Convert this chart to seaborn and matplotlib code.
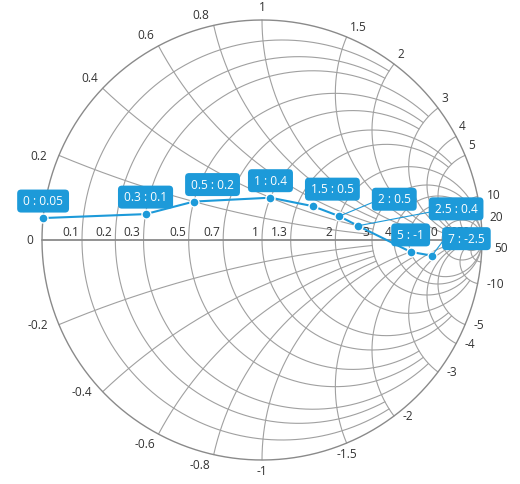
"""Smith chart (impedance) with a transmission series and data labels."""

import matplotlib
matplotlib.use("Agg")
import matplotlib.pyplot as plt
import numpy as np
import pandas as pd
import seaborn as sns
from matplotlib.patches import FancyBboxPatch
from matplotlib.transforms import IdentityTransform

# horizontal (resistance) axis labels and the |x| each circle is drawn up to
RESISTANCE_LABELS = [0.1, 0.2, 0.3, 0.5, 0.7, 1, 1.3, 2, 3, 4, 5, 10, 20, 50]
RESISTANCE_GRID_LIMIT = [2, 2, 3, 3, 3, 5, 5, 10, 10, np.inf, np.inf, np.inf, np.inf, np.inf]

# radial (reactance) axis labels and the r each arc is drawn up to
REACTANCE_LABELS = [0.2, 0.4, 0.6, 0.8, 1, 1.5, 2, 3, 4, 5, 10, 20, 50]
REACTANCE_GRID_LIMIT = [3, 3, 3, 3, 5, 5, 10, 10, np.inf, np.inf, np.inf, np.inf, np.inf]

# series: resistance / reactance pairs
SERIES_R = [0, 0.3, 0.5, 1, 1.5, 2, 2.5, 5, 7]
SERIES_X = [0.05, 0.1, 0.2, 0.4, 0.5, 0.5, 0.4, -1, -2.5]

SERIES_COLOR = "#1d9ad9"
GRID_COLOR = "#a0a0a0"
BORDER_COLOR = "#8a8a8a"
TEXT_COLOR = "#333333"
FONT = ["Open Sans", "DejaVu Sans"]
FS = 8.6       # axis labels
FS_TIP = 8.6   # data labels

R_PX = 220.0  # radius of the chart in pixels


def gamma(r, x):
    z = np.asarray(r, dtype=float) + 1j * np.asarray(x, dtype=float)
    g = (z - 1) / (z + 1)
    return g.real, g.imag


def draw_resistance_circle(ax, r, x_max):
    top = np.arctan(x_max) if np.isfinite(x_max) else np.pi / 2 - 1e-5
    t = np.tan(np.linspace(-top, top, 700))
    gx, gy = gamma(np.full_like(t, r), t)
    ax.plot(gx, gy, color=GRID_COLOR, lw=0.8, zorder=1)


def draw_reactance_arc(ax, x, r_max):
    top = np.arctan(r_max) if np.isfinite(r_max) else np.pi / 2 - 1e-5
    r = np.tan(np.linspace(0, top, 700))
    gx, gy = gamma(r, np.full_like(r, x))
    ax.plot(gx, gy, color=GRID_COLOR, lw=0.8, zorder=1)


sns.set_theme(style="white")
plt.rcParams["font.family"] = FONT

fig = plt.figure(figsize=(5.2, 4.84), dpi=100)
ax = fig.add_axes([0, 0, 1, 1])
ax.set_xlim(-262 / R_PX, 258 / R_PX)
ax.set_ylim(-244 / R_PX, 240 / R_PX)
ax.axis("off")

# grid
for r, lim in zip(RESISTANCE_LABELS, RESISTANCE_GRID_LIMIT):
    draw_resistance_circle(ax, r, lim)
for x, lim in zip(REACTANCE_LABELS, REACTANCE_GRID_LIMIT):
    draw_reactance_arc(ax, x, lim)
    draw_reactance_arc(ax, -x, lim)

theta = np.linspace(0, 2 * np.pi, 720)
ax.plot(np.cos(theta), np.sin(theta), color=BORDER_COLOR, lw=1.0, zorder=2)
ax.plot([-1, 1], [0, 0], color=BORDER_COLOR, lw=1.3, zorder=2)

# horizontal axis labels
ax.annotate("0", xy=(-1, 0), xytext=(-9, -4.4), textcoords="offset pixels",
            ha="right", va="baseline", fontsize=FS, color=TEXT_COLOR)
for r in RESISTANCE_LABELS:
    gx, _ = gamma(r, 0)
    ax.annotate(f"{r:g}", xy=(gx, 0), xytext=(-3, 4.5), textcoords="offset pixels",
                ha="right", va="baseline", fontsize=FS, color=TEXT_COLOR, zorder=3)

# radial axis labels
for sign in (1, -1):
    for x in REACTANCE_LABELS:
        gx, gy = gamma(0, sign * x)
        a = abs(np.degrees(np.arctan2(gy, gx)))
        if sign > 0:
            if a > 150:
                ha, dx, dy = "right", -12, -4.4
            elif a > 95:
                ha, dx, dy = "right", -4.5, 6.6
            elif a >= 85:
                ha, dx, dy = "center", 0, 8.6
            elif a > 15:
                ha, dx, dy = "left", 3, 6.3
            elif a > 3:
                ha, dx, dy = "left", 9, -3
            else:
                # crowded end of the axis: pushed under its neighbour
                ha, dx, dy = "left", 12, -21
        else:
            if a < 10:
                continue
            if a > 125:
                ha, dx, dy = "right", -10.5, -4.4
            elif a > 95:
                ha, dx, dy = "right", -3.5, -14
            elif a > 60:
                ha, dx, dy = "center", 0, -15
            else:
                ha, dx, dy = "left", 8.5, -4.5
        ax.annotate(f"{sign * x:g}", xy=(gx, gy), xytext=(dx, dy),
                    textcoords="offset pixels", ha=ha, va="baseline",
                    fontsize=FS, color=TEXT_COLOR)

# series
gx, gy = gamma(SERIES_R, SERIES_X)
df = pd.DataFrame({"re": gx, "im": gy, "r": SERIES_R, "x": SERIES_X})
sns.lineplot(data=df, x="re", y="im", sort=False, color=SERIES_COLOR, lw=1.5,
             marker="o", markersize=6.5, markeredgecolor="white",
             markeredgewidth=1.0, ax=ax, zorder=4)
ax.set_xlabel("")
ax.set_ylabel("")
if ax.get_legend() is not None:
    ax.get_legend().remove()

# data labels: a box 17 px above each point, pushed right past earlier boxes
fig.canvas.draw()
renderer = fig.canvas.get_renderer()
ident = IdentityTransform()
fs_px = FS_TIP * fig.dpi / 72
box_h, pad_x, lift, gap = 23, 6, 17, 12
placed = []
for row in df.itertuples():
    px, py = ax.transData.transform((row.re, row.im))
    t = ax.text(px, py + lift - 0.357 * fs_px, f"{row.r:g} : {row.x:g}",
                transform=ident, ha="center", va="baseline", fontsize=FS_TIP,
                color="white", zorder=7)
    w = t.get_window_extent(renderer).width + 2 * pad_x
    x0, y0 = px - w / 2, py + lift - box_h / 2
    shift = 0.0
    moved = True
    while moved:
        moved = False
        for ox0, oy0, ox1, oy1 in placed:
            if (x0 + shift < ox1 + 2 and x0 + shift + w > ox0
                    and y0 < oy1 and y0 + box_h > oy0):
                shift = ox1 + gap - x0
                moved = True
    t.set_x(px + shift)
    ax.add_patch(FancyBboxPatch((x0 + shift, y0), w, box_h,
                                boxstyle="round,pad=0,rounding_size=4",
                                transform=ident, fc=SERIES_COLOR, ec="none",
                                zorder=6))
    if shift > w / 2:
        ax.plot([px, x0 + shift], [py, py + lift - 3.5], transform=ident,
                color=SERIES_COLOR, lw=0.8, zorder=5)
    placed.append((x0 + shift, y0, x0 + shift + w, y0 + box_h))

fig.savefig("out.png", dpi=100)
